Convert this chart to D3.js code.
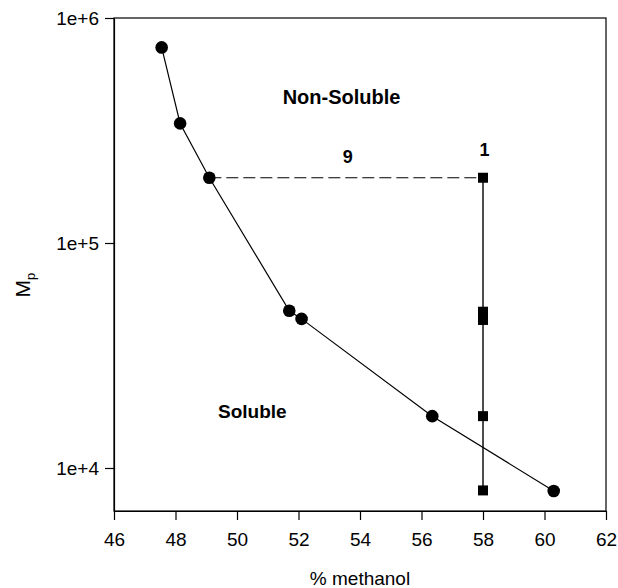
<!DOCTYPE html>
<html>
<head>
<meta charset="utf-8">
<script src="https://cdn.jsdelivr.net/npm/d3@7"></script>
<style>
  body { margin: 0; background: #fff; }
  svg text { font-family: "Liberation Sans", Arial, sans-serif; fill: #000; }
  .axis path, .axis line { stroke: #000; stroke-width: 1.2; }
  .axis text { font-size: 19px; }
</style>
</head>
<body>
<div id="chart"></div>
<script>
// cloud-point curve (circles) and fractions at 58% methanol (squares)
const curveMeoh = [47.55, 48.15, 49.1, 51.7, 52.1, 56.35, 60.3];
const curveMp   = [740000, 340000, 195000, 50000, 46000, 17000, 7900];
const fracMeoh  = [58, 58, 58, 58, 58];
const fracMp    = [195000, 49500, 45500, 17000, 7950];
const xTicks    = [46, 48, 50, 52, 54, 56, 58, 60, 62];
const yTicks    = [1e4, 1e5, 1e6];
const yTickLbl  = ['1e+4', '1e+5', '1e+6'];
const notes     = [
  { text: 'Non-Soluble', x: 53.4, y: 446000, size: 20 },
  { text: 'Soluble',     x: 50.5, y: 17800, size: 19 },
  { text: '9',           x: 53.6, y: 241000, size: 18 },
  { text: '1',           x: 58.05, y: 259000, size: 18 }
];

const M = { top: 18, right: 12, bottom: 77, left: 114 };
const W = 618, H = 588;
const w = W - M.left - M.right, h = H - M.top - M.bottom;

const root = d3.select('#chart').append('svg').attr('width', W).attr('height', H);
const svg = root.append('g').attr('transform', `translate(${M.left},${M.top})`);

const x = d3.scaleLinear().domain([46, 62]).range([0, w]);
const y = d3.scaleLog().domain([6440, 1e6]).range([h, 0]);

// frame
svg.append('rect').attr('width', w).attr('height', h)
  .attr('fill', 'none').attr('stroke', '#000').attr('stroke-width', 1.2);

svg.append('g').attr('class', 'axis').attr('transform', `translate(0,${h})`)
  .call(d3.axisBottom(x).tickValues(xTicks).tickSize(9).tickSizeOuter(0).tickPadding(13).tickFormat(d3.format('d')));
svg.append('g').attr('class', 'axis')
  .call(d3.axisLeft(y).tickValues(yTicks).tickSize(9).tickSizeOuter(0).tickPadding(6)
    .tickFormat((d, i) => yTickLbl[i]));

// axis titles
svg.append('text').attr('x', w / 2).attr('y', h + 74).attr('text-anchor', 'middle')
  .attr('font-size', 19).text('% methanol');
const yl = svg.append('text').attr('transform', `translate(${-84},${y(65000)}) rotate(-90)`)
  .attr('text-anchor', 'middle').attr('font-size', 21);
yl.append('tspan').text('M');
yl.append('tspan').attr('font-size', 13).attr('dy', 5).text('p');

// dashed tie line between circle 3 and top square
svg.append('line')
  .attr('x1', x(curveMeoh[2])).attr('x2', x(fracMeoh[0]))
  .attr('y1', y(curveMp[2])).attr('y2', y(fracMp[0]))
  .attr('stroke', '#000').attr('stroke-width', 1.2).attr('stroke-dasharray', '12,5');

const curve = curveMeoh.map((m, i) => ({ m, mp: curveMp[i] }));
const frac = fracMeoh.map((m, i) => ({ m, mp: fracMp[i] }));
const line = d3.line().x(d => x(d.m)).y(d => y(d.mp));

svg.append('path').datum(curve).attr('fill', 'none').attr('stroke', '#000')
  .attr('stroke-width', 1.2).attr('d', line);
svg.append('path').datum(frac).attr('fill', 'none').attr('stroke', '#000')
  .attr('stroke-width', 1.4).attr('d', line);

svg.selectAll('.pt').data(curve).enter().append('circle').attr('class', 'pt')
  .attr('cx', d => x(d.m)).attr('cy', d => y(d.mp)).attr('r', 6.3).attr('fill', '#000');

const s = 10;
svg.selectAll('.sq').data(frac).enter().append('rect').attr('class', 'sq')
  .attr('x', d => x(d.m) - s / 2).attr('y', d => y(d.mp) - s / 2)
  .attr('width', s).attr('height', s).attr('fill', '#000');

svg.selectAll('.note').data(notes).enter().append('text').attr('class', 'note')
  .attr('x', d => x(d.x)).attr('y', d => y(d.y)).attr('dy', '0.35em')
  .attr('text-anchor', 'middle').attr('font-size', d => d.size).attr('font-weight', 'bold')
  .text(d => d.text);
</script>
</body>
</html>
